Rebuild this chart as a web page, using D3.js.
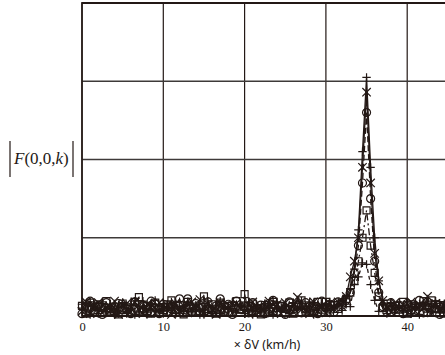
<!DOCTYPE html>
<html>
<head>
<meta charset="utf-8">
<script src="https://cdn.jsdelivr.net/npm/d3@7"></script>
<style>
  body { margin: 0; background: #fff; }
  svg { display: block; }
</style>
</head>
<body>
<svg width="445" height="355"></svg>
<script>
// x positions (speed index), step 0.5
var xs = [0,0.5,1,1.5,2,2.5,3,3.5,4,4.5,5,5.5,6,6.5,7,7.5,8,8.5,9,9.5,
  10,10.5,11,11.5,12,12.5,13,13.5,14,14.5,15,15.5,16,16.5,17,17.5,18,18.5,19,19.5,
  20,20.5,21,21.5,22,22.5,23,23.5,24,24.5,25,25.5,26,26.5,27,27.5,28,28.5,29,29.5,
  30,30.5,31,31.5,32,32.5,33,33.5,34,34.5,35,35.5,36,36.5,37,37.5,38,38.5,39,39.5,
  40,40.5,41,41.5,42,42.5,43,43.5,44,44.5,45];

var seriesPlus = [0.15,0.04,0.18,0.08,0.03,0.16,0.06,0.12,0.02,0.14,
  0.17,0.03,0.10,0.19,0.05,0.13,0.02,0.15,0.09,0.04,
  0.16,0.07,0.18,0.03,0.12,0.06,0.17,0.04,0.14,0.08,
  0.02,0.19,0.06,0.13,0.03,0.16,0.08,0.18,0.05,0.12,
  0.03,0.17,0.07,0.14,0.04,0.15,0.10,0.02,0.18,0.06,
  0.13,0.03,0.16,0.08,0.19,0.04,0.12,0.17,0.05,0.14,
  0.07,0.18,0.10,0.15,0.20,0.25,0.35,0.60,1.10,2.10,
  3.05,1.90,1.00,0.45,0.20,0.08,0.16,0.04,0.13,0.07,
  0.18,0.03,0.15,0.09,0.17,0.05,0.12,0.19,0.04,0.14,0.08];

var seriesCross = [0.06,0.18,0.03,0.14,0.17,0.04,0.12,0.07,0.19,0.02,
  0.13,0.16,0.05,0.18,0.08,0.03,0.15,0.11,0.04,0.17,
  0.09,0.14,0.02,0.16,0.06,0.13,0.04,0.18,0.10,0.21,
  0.05,0.15,0.08,0.02,0.17,0.07,0.13,0.04,0.16,0.09,
  0.14,0.03,0.18,0.06,0.12,0.04,0.19,0.08,0.15,0.03,
  0.17,0.10,0.05,0.24,0.08,0.14,0.03,0.18,0.06,0.13,
  0.04,0.16,0.09,0.18,0.12,0.25,0.50,0.70,1.00,1.90,
  2.86,1.70,0.80,0.45,0.20,0.12,0.05,0.17,0.08,0.14,
  0.03,0.18,0.06,0.15,0.10,0.25,0.04,0.16,0.09,0.13,0.05];

var seriesCircle = [0.03,0.15,0.19,0.06,0.13,0.02,0.17,0.09,0.04,0.16,
  0.08,0.12,0.03,0.18,0.07,0.14,0.05,0.19,0.10,0.03,
  0.15,0.06,0.12,0.04,0.22,0.08,0.22,0.05,0.16,0.10,
  0.04,0.18,0.07,0.13,0.22,0.06,0.15,0.02,0.19,0.09,
  0.13,0.04,0.17,0.08,0.14,0.03,0.16,0.20,0.06,0.12,
  0.02,0.18,0.09,0.14,0.04,0.17,0.07,0.13,0.03,0.19,
  0.10,0.15,0.05,0.18,0.14,0.20,0.30,0.55,0.90,1.70,
  2.60,1.50,0.70,0.30,0.12,0.05,0.17,0.09,0.14,0.03,
  0.16,0.07,0.13,0.20,0.04,0.18,0.08,0.15,0.02,0.13,0.10];

var seriesSquare = [0.13,0.03,0.17,0.08,0.15,0.04,0.19,0.06,0.12,0.02,
  0.16,0.09,0.04,0.18,0.24,0.07,0.13,0.03,0.17,0.10,
  0.05,0.15,0.20,0.08,0.14,0.02,0.18,0.06,0.12,0.04,
  0.25,0.09,0.15,0.03,0.17,0.07,0.13,0.05,0.19,0.08,
  0.28,0.04,0.16,0.10,0.02,0.14,0.07,0.18,0.05,0.13,
  0.09,0.17,0.03,0.15,0.20,0.06,0.12,0.04,0.18,0.08,
  0.18,0.05,0.14,0.09,0.17,0.22,0.30,0.45,0.70,1.00,
  1.35,0.90,0.55,0.25,0.10,0.16,0.04,0.13,0.08,0.18,
  0.03,0.15,0.07,0.12,0.19,0.05,0.20,0.09,0.14,0.03,0.16];

var seriesPlus2 = [0.10,0.16,0.02,0.13,0.07,0.18,0.04,0.15,0.09,0.03,
  0.17,0.06,0.14,0.02,0.12,0.19,0.05,0.16,0.20,0.08,
  0.03,0.15,0.09,0.17,0.04,0.13,0.18,0.06,0.11,0.02,
  0.16,0.08,0.03,0.14,0.19,0.05,0.12,0.17,0.04,0.15,
  0.07,0.18,0.02,0.13,0.09,0.16,0.04,0.19,0.06,0.11,
  0.15,0.03,0.17,0.08,0.12,0.05,0.18,0.02,0.14,0.09,
  0.16,0.04,0.13,0.18,0.07,0.15,0.12,0.40,0.50,0.68,
  0.66,0.40,0.20,0.06,0.14,0.03,0.17,0.09,0.12,0.05,
  0.18,0.08,0.15,0.02,0.13,0.19,0.06,0.11,0.16,0.04,0.10];

var xGrid = [0, 10, 20, 30, 40, 50];
var xTicks = [0, 10, 20, 30, 40];
var yTicks = [0, 1, 2, 3, 4];

var series = [
  { values: seriesPlus, marker: "plus", dash: null },
  { values: seriesCross, marker: "cross", dash: null },
  { values: seriesCircle, marker: "circle", dash: "6,3" },
  { values: seriesSquare, marker: "square", dash: "7,3,2,3" },
  { values: seriesPlus2, marker: "plus", dash: "4,3" }
];

var ink = "#231815";
var svg = d3.select("svg");

var x = d3.scaleLinear().domain([0, 50]).range([82, 488.5]);
var y = d3.scaleLinear().domain([0, 4]).range([316, 3]);

// grid
var grid = svg.append("g");
grid.selectAll(".vg")
  .data(xGrid)
  .enter()
  .append("line")
  .attr("x1", function(d) { return x(d); })
  .attr("x2", function(d) { return x(d); })
  .attr("y1", y(0))
  .attr("y2", y(4))
  .style("stroke", ink)
  .style("stroke-width", 1.2);
grid.selectAll(".hg")
  .data(yTicks)
  .enter()
  .append("line")
  .attr("x1", x(0))
  .attr("x2", 445)
  .attr("y1", function(d) { return y(d); })
  .attr("y2", function(d) { return y(d); })
  .style("stroke", function(d) { return (d === 0 || d === 4) ? ink : "#3e3a39"; })
  .style("stroke-width", function(d) { return (d === 0 || d === 4) ? 2.2 : 1.4; });

// lines
var line = d3.line()
  .x(function(d, i) { return x(xs[i]); })
  .y(function(d) { return y(d); });

var plot = svg.append("g");
series.forEach(function(s) {
  plot.append("path")
    .datum(s.values)
    .attr("d", line)
    .style("fill", "none")
    .style("stroke", ink)
    .style("stroke-width", 1.3)
    .style("stroke-dasharray", s.dash);
});

// markers
function markerPath(type, r) {
  if (type === "plus") return "M" + (-r) + ",0H" + r + "M0," + (-r) + "V" + r;
  if (type === "cross") return "M" + (-r) + "," + (-r) + "L" + r + "," + r + "M" + (-r) + "," + r + "L" + r + "," + (-r);
  return "M" + (-r) + "," + (-r) + "H" + r + "V" + r + "H" + (-r) + "Z";
}

series.forEach(function(s) {
  var g = plot.append("g");
  var pts = g.selectAll("g")
    .data(s.values)
    .enter()
    .append("g")
    .attr("transform", function(d, i) { return "translate(" + x(xs[i]) + "," + y(d) + ")"; });
  if (s.marker === "circle") {
    pts.append("circle").attr("r", 4);
  } else {
    pts.append("path").attr("d", markerPath(s.marker, s.marker === "square" ? 3.5 : 4.2));
  }
  pts.selectAll("path,circle")
    .style("fill", "none")
    .style("stroke", ink)
    .style("stroke-width", 1.2);
});

// left border
svg.append("line")
  .attr("x1", x(0)).attr("x2", x(0))
  .attr("y1", y(0) + 1).attr("y2", y(4) - 1)
  .style("stroke", ink)
  .style("stroke-width", 1.6);

// x axis labels
var xAxis = d3.axisBottom(x).tickValues(xTicks).tickSize(0).tickPadding(6);
var ax = svg.append("g")
  .attr("transform", "translate(0," + y(0) + ")")
  .call(xAxis);
ax.select(".domain").remove();
ax.selectAll("text")
  .style("font-family", "'Liberation Serif', serif")
  .style("font-size", "12.5px")
  .style("fill", ink);

svg.append("text")
  .attr("x", 267)
  .attr("y", 349)
  .attr("text-anchor", "middle")
  .style("font-family", "'Noto Sans', 'DejaVu Sans', sans-serif")
  .style("font-size", "12.5px")
  .style("fill", ink)
  .text("× δV (km/h)");

// y label |F(0,0,k)|
var yl = svg.append("g");
var t = yl.append("text")
  .attr("x", 14)
  .attr("y", 164)
  .style("font-family", "'Liberation Serif', serif")
  .style("font-size", "17px")
  .style("fill", ink);
t.append("tspan").style("font-style", "italic").text("F");
t.append("tspan").text("(0,0,");
t.append("tspan").style("font-style", "italic").text("k");
t.append("tspan").text(")");
yl.append("line").attr("x1", 10).attr("x2", 10).attr("y1", 141).attr("y2", 177)
  .style("stroke", ink).style("stroke-width", 1.2);
yl.append("line").attr("x1", 73).attr("x2", 73).attr("y1", 141).attr("y2", 177)
  .style("stroke", ink).style("stroke-width", 1.2);
</script>
</body>
</html>
